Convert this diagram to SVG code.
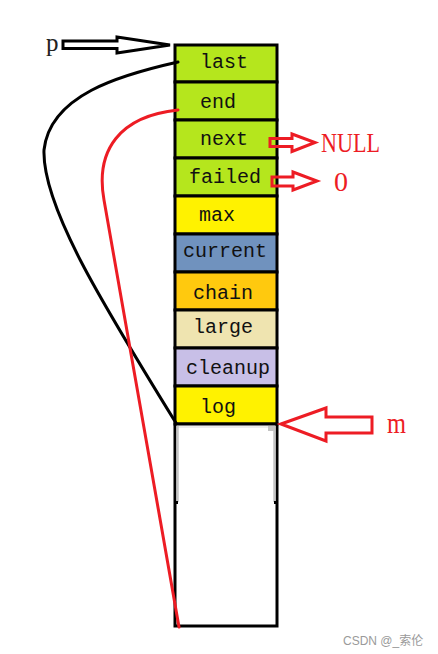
<svg xmlns="http://www.w3.org/2000/svg" width="438" height="654" viewBox="0 0 438 654">
<style>
.cell{stroke:#000;stroke-width:3}
.lbl{font-family:"Liberation Mono",monospace;font-size:20px;fill:#111}
.big{font-family:"Liberation Serif",serif;fill:#ed1c24}
.rarrow{fill:none;stroke:#ed1c24;stroke-width:3;stroke-linejoin:miter}
.curve{fill:none;stroke-width:3;stroke-linecap:round}
</style>
<rect width="438" height="654" fill="#fff"/>
<g id="memory">
  <g id="cell-last"><rect class="cell" x="175" y="45" width="102" height="37" fill="#b5e61d"/><text class="lbl" x="200" y="68">last</text></g>
  <g id="cell-end"><rect class="cell" x="175" y="82" width="102" height="38" fill="#b5e61d"/><text class="lbl" x="200" y="108">end</text></g>
  <g id="cell-next"><rect class="cell" x="175" y="120" width="102" height="38" fill="#b5e61d"/><text class="lbl" x="200" y="145">next</text></g>
  <g id="cell-failed"><rect class="cell" x="175" y="158" width="102" height="38" fill="#b5e61d"/><text class="lbl" x="189" y="183">failed</text></g>
  <g id="cell-max"><rect class="cell" x="175" y="196" width="102" height="38" fill="#fff200"/><text class="lbl" x="199" y="221">max</text></g>
  <g id="cell-current"><rect class="cell" x="175" y="234" width="102" height="38" fill="#7092be"/><text class="lbl" x="183" y="257">current</text></g>
  <g id="cell-chain"><rect class="cell" x="175" y="272" width="102" height="38" fill="#ffc90e"/><text class="lbl" x="193" y="299">chain</text></g>
  <g id="cell-large"><rect class="cell" x="175" y="310" width="102" height="38" fill="#efe4b0"/><text class="lbl" x="193" y="333">large</text></g>
  <g id="cell-cleanup"><rect class="cell" x="175" y="348" width="102" height="38" fill="#c8bfe7"/><text class="lbl" x="186" y="374">cleanup</text></g>
  <g id="cell-log"><rect class="cell" x="175" y="386" width="102" height="38" fill="#fff200"/><text class="lbl" x="200" y="413">log</text></g>
  <g id="cell-free">
    <rect class="cell" x="175" y="424" width="102" height="202" fill="#fff"/>
    <line x1="177" y1="427" x2="275" y2="427" stroke="#e6e6e6" stroke-width="1.5"/>
    <line x1="177.5" y1="426" x2="177.5" y2="502" stroke="#c3c3c3" stroke-width="2.5"/>
    <line x1="274.5" y1="426" x2="274.5" y2="502" stroke="#c3c3c3" stroke-width="2.5"/>
    <rect x="268" y="426" width="7" height="5" fill="#c3c3c3"/>
    <rect x="174" y="501" width="4" height="3" fill="#000"/>
    <rect x="274" y="501" width="4" height="3" fill="#000"/>
  </g>
</g>
<g id="label-p"><text x="46" y="51" font-family="Liberation Serif, serif" font-size="25" fill="#222">p</text></g>
<g id="label-null"><text class="big" x="321" y="152" font-size="28" textLength="59" lengthAdjust="spacingAndGlyphs">NULL</text></g>
<g id="label-zero"><text class="big" x="334" y="191" font-size="28" textLength="14" lengthAdjust="spacingAndGlyphs">0</text></g>
<g id="label-m"><text class="big" x="387" y="433" font-size="30" textLength="19" lengthAdjust="spacingAndGlyphs">m</text></g>
<g id="connectors">
  <polygon points="63,41 117,41 117,37 170,45 117,53 117,48.5 63,48.5" fill="#fff" stroke="#000" stroke-width="3"/>
  <polygon class="rarrow" points="270,138.5 292,138.5 292,134 315,142.5 292,151.5 292,146.5 270,146.5"/>
  <polygon class="rarrow" points="272,177 293,177 293,172 317,181 293,190 293,186 272,186"/>
  <polygon class="rarrow" points="281,424 326,408 326,417 372,417 372,433 326,433 326,441"/>
  <path class="curve" stroke="#000" d="M178,62 C120,75 50,95 44,150 C42,205 100,300 176,423"/>
  <path class="curve" stroke="#ed1c24" d="M178,110 C120,116 95,150 104,200 L179,627"/>
</g>
<text x="343" y="645" font-family="Liberation Sans, Noto Sans CJK SC, sans-serif" font-size="12" fill="#9a9a9a">CSDN @_索伦</text>
</svg>
